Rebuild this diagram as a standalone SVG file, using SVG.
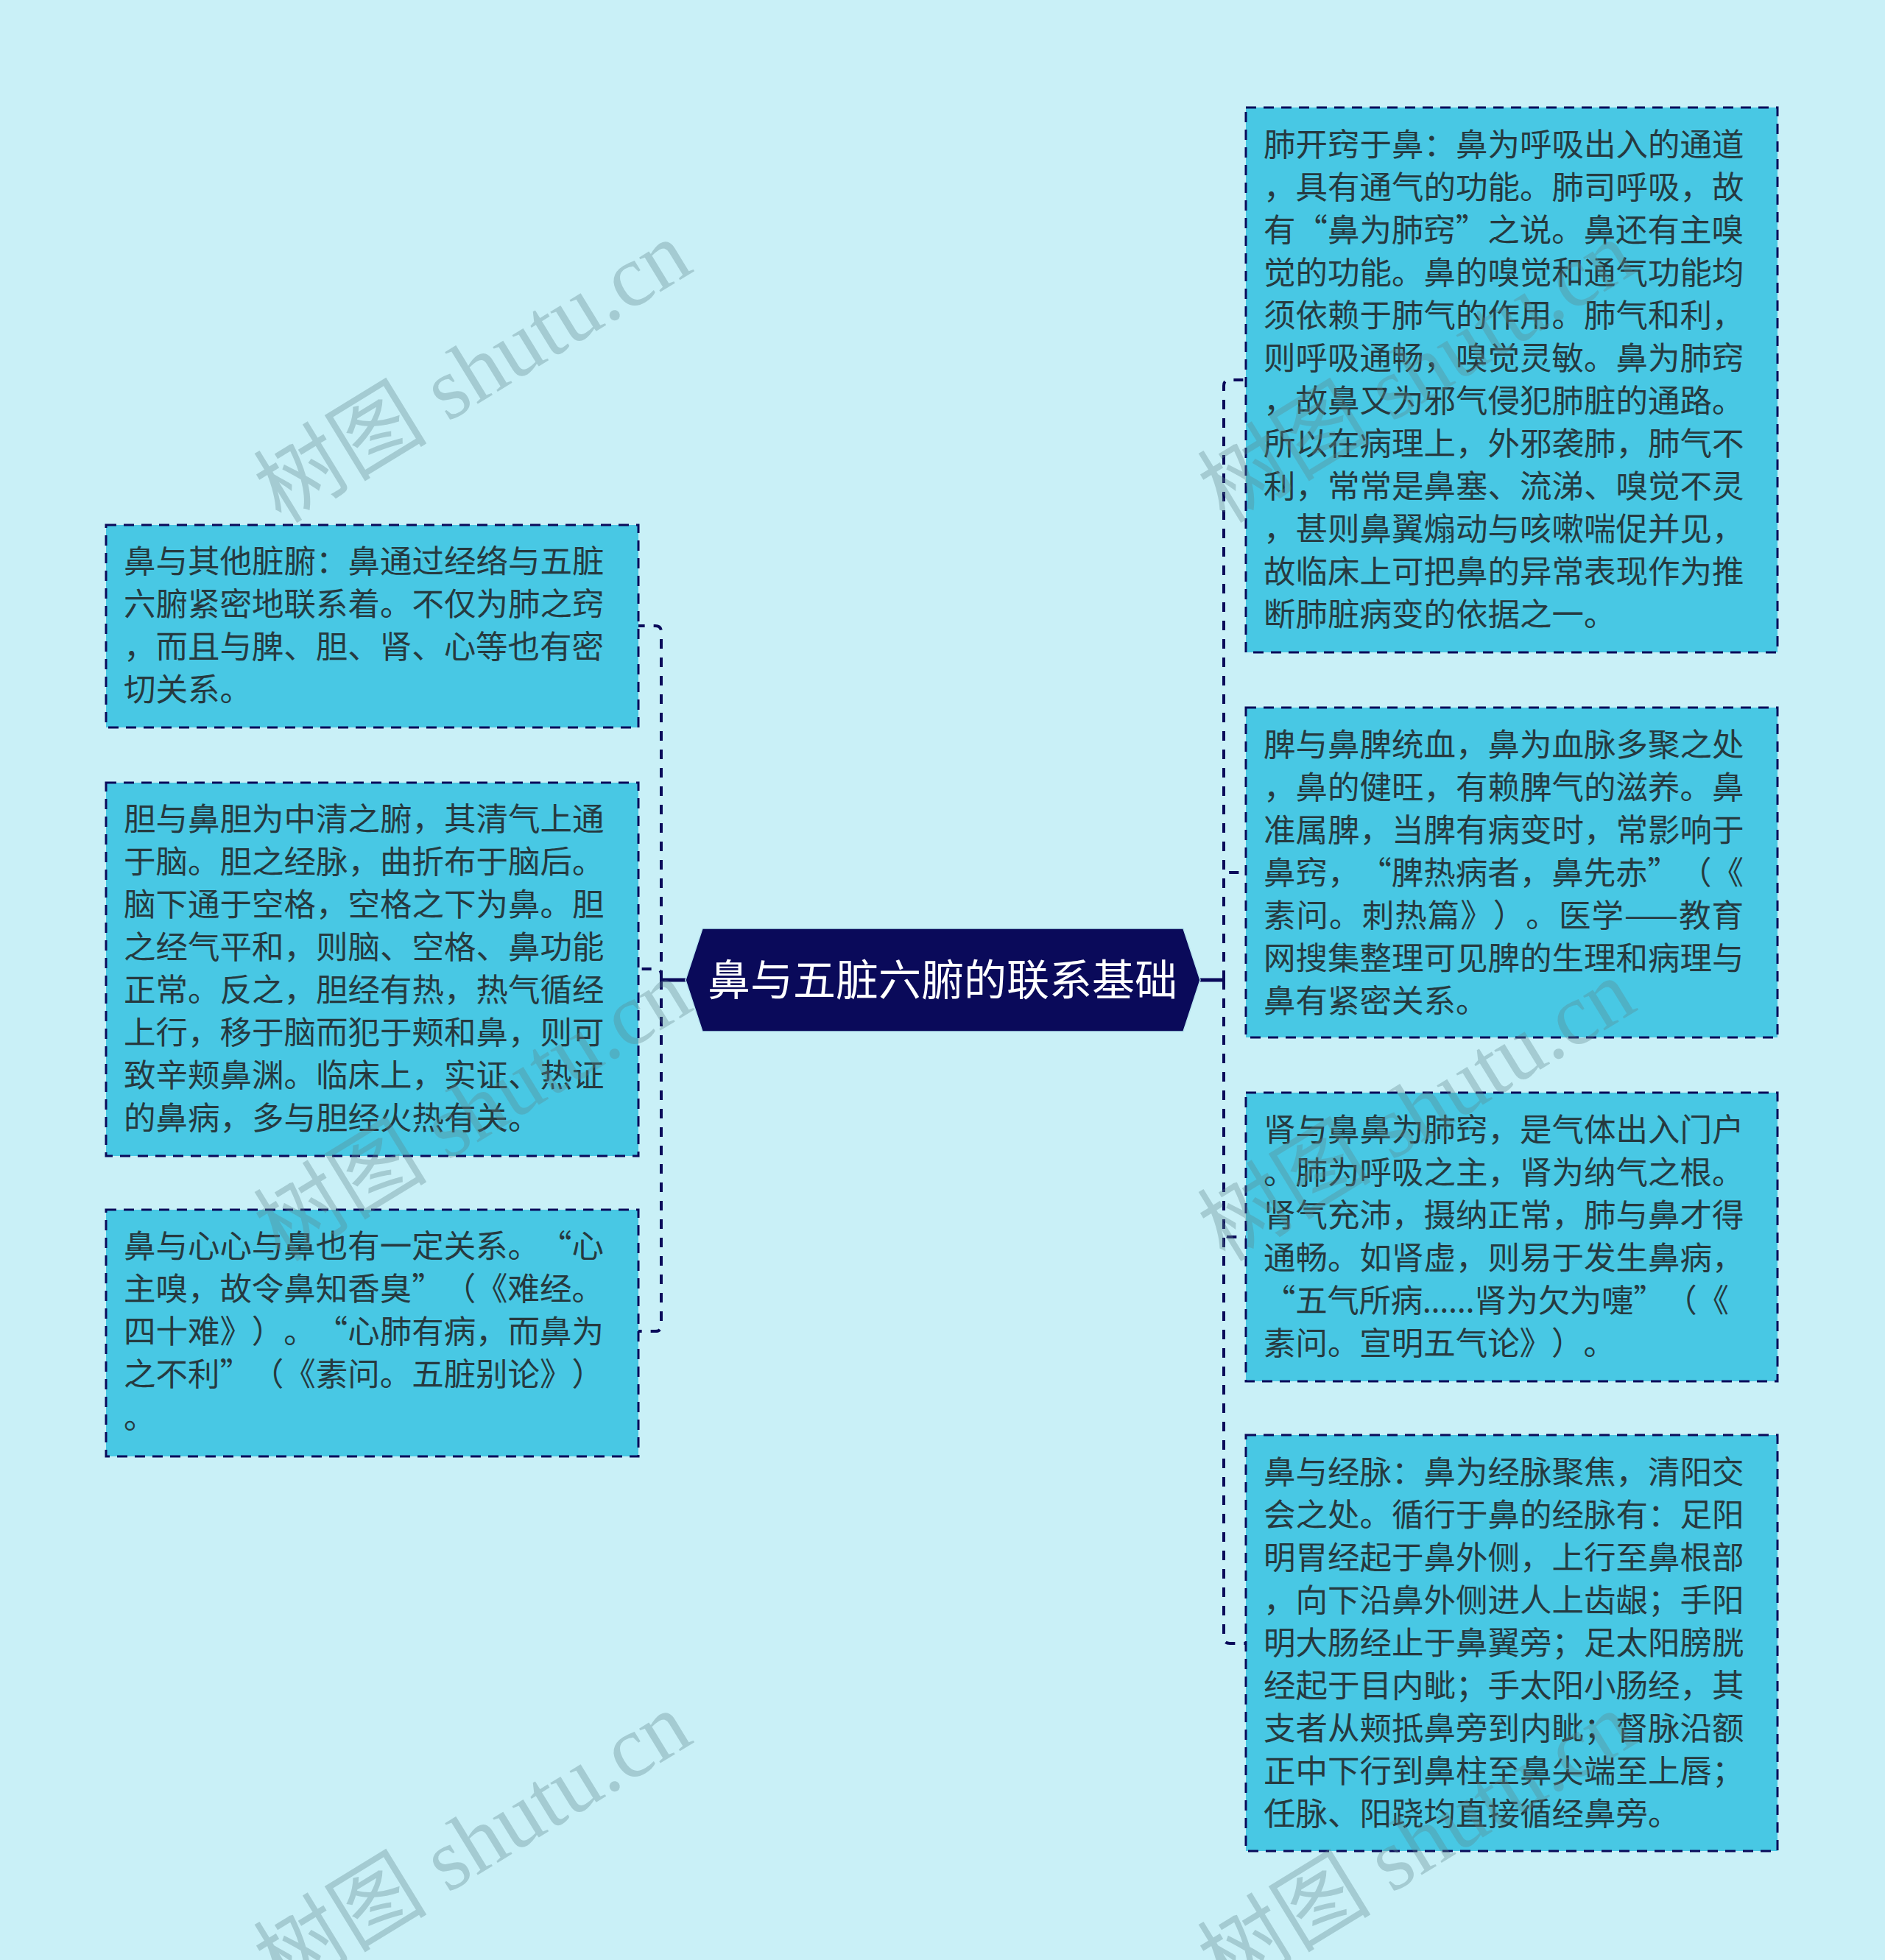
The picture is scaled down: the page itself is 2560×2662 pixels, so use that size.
<svg xmlns="http://www.w3.org/2000/svg" width="2560" height="2662" viewBox="0 0 2560 2662">
<style>
.bg{fill:#c9f0f7}
.box{fill:#48c8e4;stroke:#0a0a5a;stroke-width:3;stroke-dasharray:14 10}
.txt{font-family:"Noto Sans CJK SC","Liberation Sans",sans-serif;font-size:43.5px;fill:#263a40;text-spacing-trim:space-all;font-kerning:none}
.conn{fill:none;stroke:#0a0a5a;stroke-width:4;stroke-dasharray:13 12}
.stub{fill:none;stroke:#0a0a5a;stroke-width:5}
.ctr{fill:#0a0a5a;stroke:#b8e6f0;stroke-width:1.5}
.ctxt{font-family:"Noto Sans CJK SC","Liberation Sans",sans-serif;font-size:58px;fill:#ffffff}
.wm{font-family:"Liberation Serif","Noto Sans CJK SC",serif;font-size:120px;fill:#5e868d;fill-opacity:0.35}
</style>
<rect class="bg" x="0" y="0" width="2560" height="2662"/>
<g id="connectors">
<line class="stub" x1="931" y1="1331" x2="898" y2="1331"/>
<path class="conn" d="M898 1331 V858 Q898 850 890 850 H867"/>
<path class="conn" d="M898 1331 V1324 Q898 1316 890 1316 H867"/>
<path class="conn" d="M898 1331 V1800 Q898 1808 890 1808 H867"/>
<line class="stub" x1="1630" y1="1331" x2="1662" y2="1331"/>
<path class="conn" d="M1662 1331 V524 Q1662 516 1670 516 H1692"/>
<path class="conn" d="M1662 1331 V1193 Q1662 1185 1670 1185 H1692"/>
<path class="conn" d="M1662 1331 V1672 Q1662 1680 1670 1680 H1692"/>
<path class="conn" d="M1662 1331 V2224 Q1662 2232 1670 2232 H1692"/>
</g>
<g id="center">
<polygon class="ctr" points="931,1331 954,1261 1607,1261 1630,1331 1607,1401 954,1401"/>
<text class="ctxt" x="1280" y="1352" text-anchor="middle">鼻与五脏六腑的联系基础</text>
</g>
<g id="left1">
<rect class="box" x="144" y="713" width="723" height="275"/>
<text class="txt" x="168" y="778"><tspan x="168">鼻与其他脏腑：鼻通过经络与五脏</tspan><tspan x="168" dy="58">六腑紧密地联系着。不仅为肺之窍</tspan><tspan x="168" dy="58" textLength="652" lengthAdjust="spacing">，而且与脾、胆、肾、心等也有密</tspan><tspan x="168" dy="58">切关系。</tspan></text>
</g>
<g id="left2">
<rect class="box" x="144" y="1063" width="723" height="507"/>
<text class="txt" x="168" y="1128"><tspan x="168">胆与鼻胆为中清之腑，其清气上通</tspan><tspan x="168" dy="58">于脑。胆之经脉，曲折布于脑后。</tspan><tspan x="168" dy="58">脑下通于空格，空格之下为鼻。胆</tspan><tspan x="168" dy="58">之经气平和，则脑、空格、鼻功能</tspan><tspan x="168" dy="58">正常。反之，胆经有热，热气循经</tspan><tspan x="168" dy="58">上行，移于脑而犯于颊和鼻，则可</tspan><tspan x="168" dy="58">致辛颊鼻渊。临床上，实证、热证</tspan><tspan x="168" dy="58">的鼻病，多与胆经火热有关。</tspan></text>
</g>
<g id="left3">
<rect class="box" x="144" y="1643" width="723" height="335"/>
<text class="txt" x="168" y="1708"><tspan x="168" textLength="652" lengthAdjust="spacing">鼻与心心与鼻也有一定关系。“心</tspan><tspan x="168" dy="58" textLength="652" lengthAdjust="spacing">主嗅，故令鼻知香臭”（《难经。</tspan><tspan x="168" dy="58" textLength="652" lengthAdjust="spacing">四十难》）。“心肺有病，而鼻为</tspan><tspan x="168" dy="58" textLength="652" lengthAdjust="spacing">之不利”（《素问。五脏别论》）</tspan><tspan x="168" dy="58">。</tspan></text>
</g>
<g id="right1">
<rect class="box" x="1692" y="146" width="722" height="740"/>
<text class="txt" x="1716" y="212"><tspan x="1716">肺开窍于鼻：鼻为呼吸出入的通道</tspan><tspan x="1716" dy="58">，具有通气的功能。肺司呼吸，故</tspan><tspan x="1716" dy="58" textLength="652" lengthAdjust="spacing">有“鼻为肺窍”之说。鼻还有主嗅</tspan><tspan x="1716" dy="58">觉的功能。鼻的嗅觉和通气功能均</tspan><tspan x="1716" dy="58">须依赖于肺气的作用。肺气和利，</tspan><tspan x="1716" dy="58">则呼吸通畅，嗅觉灵敏。鼻为肺窍</tspan><tspan x="1716" dy="58">，故鼻又为邪气侵犯肺脏的通路。</tspan><tspan x="1716" dy="58">所以在病理上，外邪袭肺，肺气不</tspan><tspan x="1716" dy="58">利，常常是鼻塞、流涕、嗅觉不灵</tspan><tspan x="1716" dy="58">，甚则鼻翼煽动与咳嗽喘促并见，</tspan><tspan x="1716" dy="58">故临床上可把鼻的异常表现作为推</tspan><tspan x="1716" dy="58">断肺脏病变的依据之一。</tspan></text>
</g>
<g id="right2">
<rect class="box" x="1692" y="961" width="722" height="448"/>
<text class="txt" x="1716" y="1027"><tspan x="1716">脾与鼻脾统血，鼻为血脉多聚之处</tspan><tspan x="1716" dy="58">，鼻的健旺，有赖脾气的滋养。鼻</tspan><tspan x="1716" dy="58">准属脾，当脾有病变时，常影响于</tspan><tspan x="1716" dy="58" textLength="652" lengthAdjust="spacing">鼻窍，“脾热病者，鼻先赤”（《</tspan><tspan x="1716" dy="58" textLength="652" lengthAdjust="spacing">素问。刺热篇》）。医学——教育</tspan><tspan x="1716" dy="58">网搜集整理可见脾的生理和病理与</tspan><tspan x="1716" dy="58">鼻有紧密关系。</tspan></text>
</g>
<g id="right3">
<rect class="box" x="1692" y="1484" width="722" height="392"/>
<text class="txt" x="1716" y="1550"><tspan x="1716">肾与鼻鼻为肺窍，是气体出入门户</tspan><tspan x="1716" dy="58">。肺为呼吸之主，肾为纳气之根。</tspan><tspan x="1716" dy="58">肾气充沛，摄纳正常，肺与鼻才得</tspan><tspan x="1716" dy="58">通畅。如肾虚，则易于发生鼻病，</tspan><tspan x="1716" dy="58" textLength="632" lengthAdjust="spacing">“五气所病......肾为欠为嚏”（《</tspan><tspan x="1716" dy="58" textLength="478" lengthAdjust="spacing">素问。宣明五气论》）。</tspan></text>
</g>
<g id="right4">
<rect class="box" x="1692" y="1949" width="722" height="565"/>
<text class="txt" x="1716" y="2015"><tspan x="1716">鼻与经脉：鼻为经脉聚焦，清阳交</tspan><tspan x="1716" dy="58">会之处。循行于鼻的经脉有：足阳</tspan><tspan x="1716" dy="58">明胃经起于鼻外侧，上行至鼻根部</tspan><tspan x="1716" dy="58">，向下沿鼻外侧进人上齿龈；手阳</tspan><tspan x="1716" dy="58">明大肠经止于鼻翼旁；足太阳膀胱</tspan><tspan x="1716" dy="58">经起于目内眦；手太阳小肠经，其</tspan><tspan x="1716" dy="58">支者从颊抵鼻旁到内眦；督脉沿额</tspan><tspan x="1716" dy="58">正中下行到鼻柱至鼻尖端至上唇；</tspan><tspan x="1716" dy="58">任脉、阳跷均直接循经鼻旁。</tspan></text>
</g>
<g id="watermarks">
<text class="wm" transform="translate(382,712) rotate(-31.5)" textLength="660" lengthAdjust="spacingAndGlyphs">树图 shutu.cn</text>
<text class="wm" transform="translate(382,1715) rotate(-31.5)" textLength="660" lengthAdjust="spacingAndGlyphs">树图 shutu.cn</text>
<text class="wm" transform="translate(382,2710) rotate(-31.5)" textLength="660" lengthAdjust="spacingAndGlyphs">树图 shutu.cn</text>
<text class="wm" transform="translate(1664,712) rotate(-31.5)" textLength="660" lengthAdjust="spacingAndGlyphs">树图 shutu.cn</text>
<text class="wm" transform="translate(1664,1715) rotate(-31.5)" textLength="660" lengthAdjust="spacingAndGlyphs">树图 shutu.cn</text>
<text class="wm" transform="translate(1664,2710) rotate(-31.5)" textLength="660" lengthAdjust="spacingAndGlyphs">树图 shutu.cn</text>
</g>
</svg>
